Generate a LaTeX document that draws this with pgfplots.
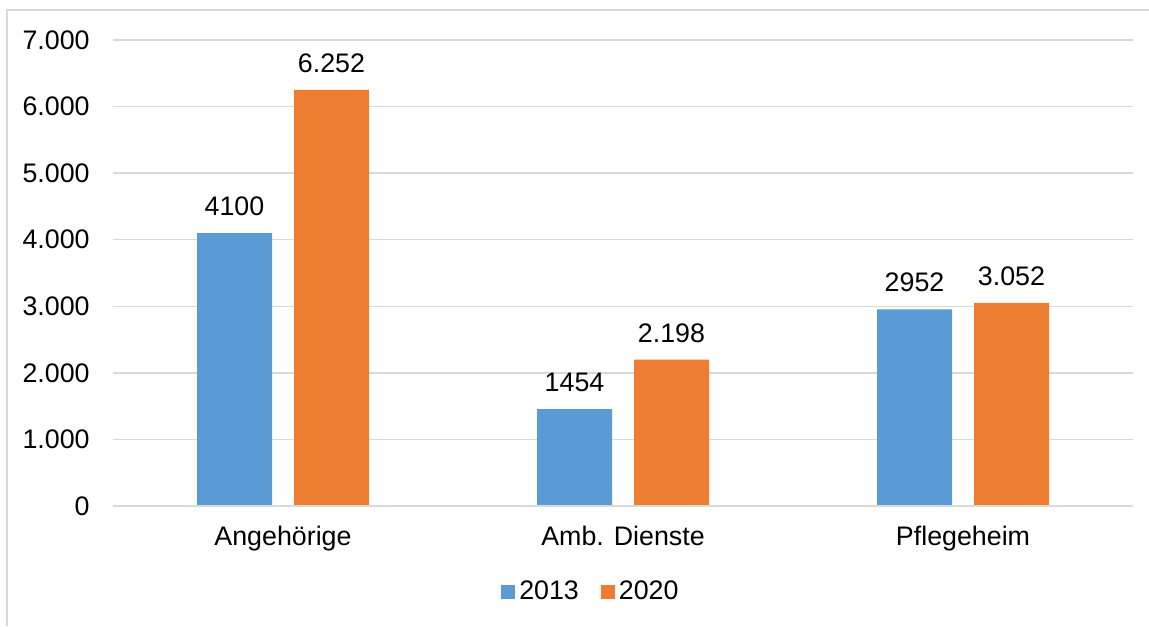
\documentclass[border=0pt]{standalone}
\usepackage{pgfplots}
\pgfplotsset{compat=1.18}
\usepackage{pgfplotstable}
\usepackage{fontspec}
\setmainfont{Liberation Sans}
\definecolor{cblue}{HTML}{5B9BD5}
\definecolor{corange}{HTML}{ED7D31}
\definecolor{cgrid}{HTML}{D9D9D9}
\pgfplotstableread{
x y lab
0 4100 4100
1 1454 1454
2 2952 2952
}\dataA
\pgfplotstableread{
x y lab
0 6252 6.252
1 2198 2.198
2 3052 3.052
}\dataB
\begin{document}
\fontsize{13.4}{16}\selectfont
\begin{tikzpicture}
\begin{axis}[
  at={(0,0)}, anchor=south west,
  scale only axis,
  width=510pt, height=233pt,
  xmin=-0.5, xmax=2.5,
  ymin=0, ymax=7000,
  axis line style={draw=none},
  axis x line*=bottom,
  ytick={0,1000,...,7000},
  yticklabels={0,1.000,2.000,3.000,4.000,5.000,6.000,7.000},
  xtick={0,1,2},
  xticklabels={Angehörige,Amb. Dienste,Pflegeheim},
  major tick length=0pt,
  ymajorgrids,
  grid style={cgrid, line width=0.75pt},
  yticklabel style={anchor=east, inner sep=0pt, xshift=-11.5pt, font=\fontsize{13.4}{16}\selectfont},
  xticklabel style={anchor=north, inner sep=0pt, yshift=-10pt, font=\fontsize{13.4}{16}\selectfont},
  ybar,
  bar width=37.5pt,
  point meta=explicit symbolic,
  nodes near coords,
  nodes near coords style={anchor=south, inner sep=0pt, yshift=8.5pt, font=\fontsize{13.4}{16}\selectfont},
  legend style={draw=none, fill=none, at={(0.4695,-0.1845)}, anchor=center, legend columns=2,
    font=\fontsize{13.4}{16}\selectfont,
    /tikz/every even column/.append style={column sep=9pt}},
  legend image code/.code={\fill[#1] (0pt,-3.5pt) rectangle (7pt,3.5pt);},
]
\addplot[fill=cblue, draw=none, bar shift=-24.25pt] table[x=x, y=y, meta=lab] {\dataA};
\addplot[fill=corange, draw=none, bar shift=24.25pt] table[x=x, y=y, meta=lab] {\dataB};
\legend{2013,2020}
\draw[cgrid, line width=0.75pt] (rel axis cs:0,0) -- (rel axis cs:1,0);
\end{axis}
\draw[cgrid, line width=0.6pt] (-53pt,-60pt) -- (-53pt,248pt) -- (518pt,248pt);
\pgfresetboundingbox
\path (-56.5pt,-60pt) rectangle (518pt,253pt);
\end{tikzpicture}
\end{document}
